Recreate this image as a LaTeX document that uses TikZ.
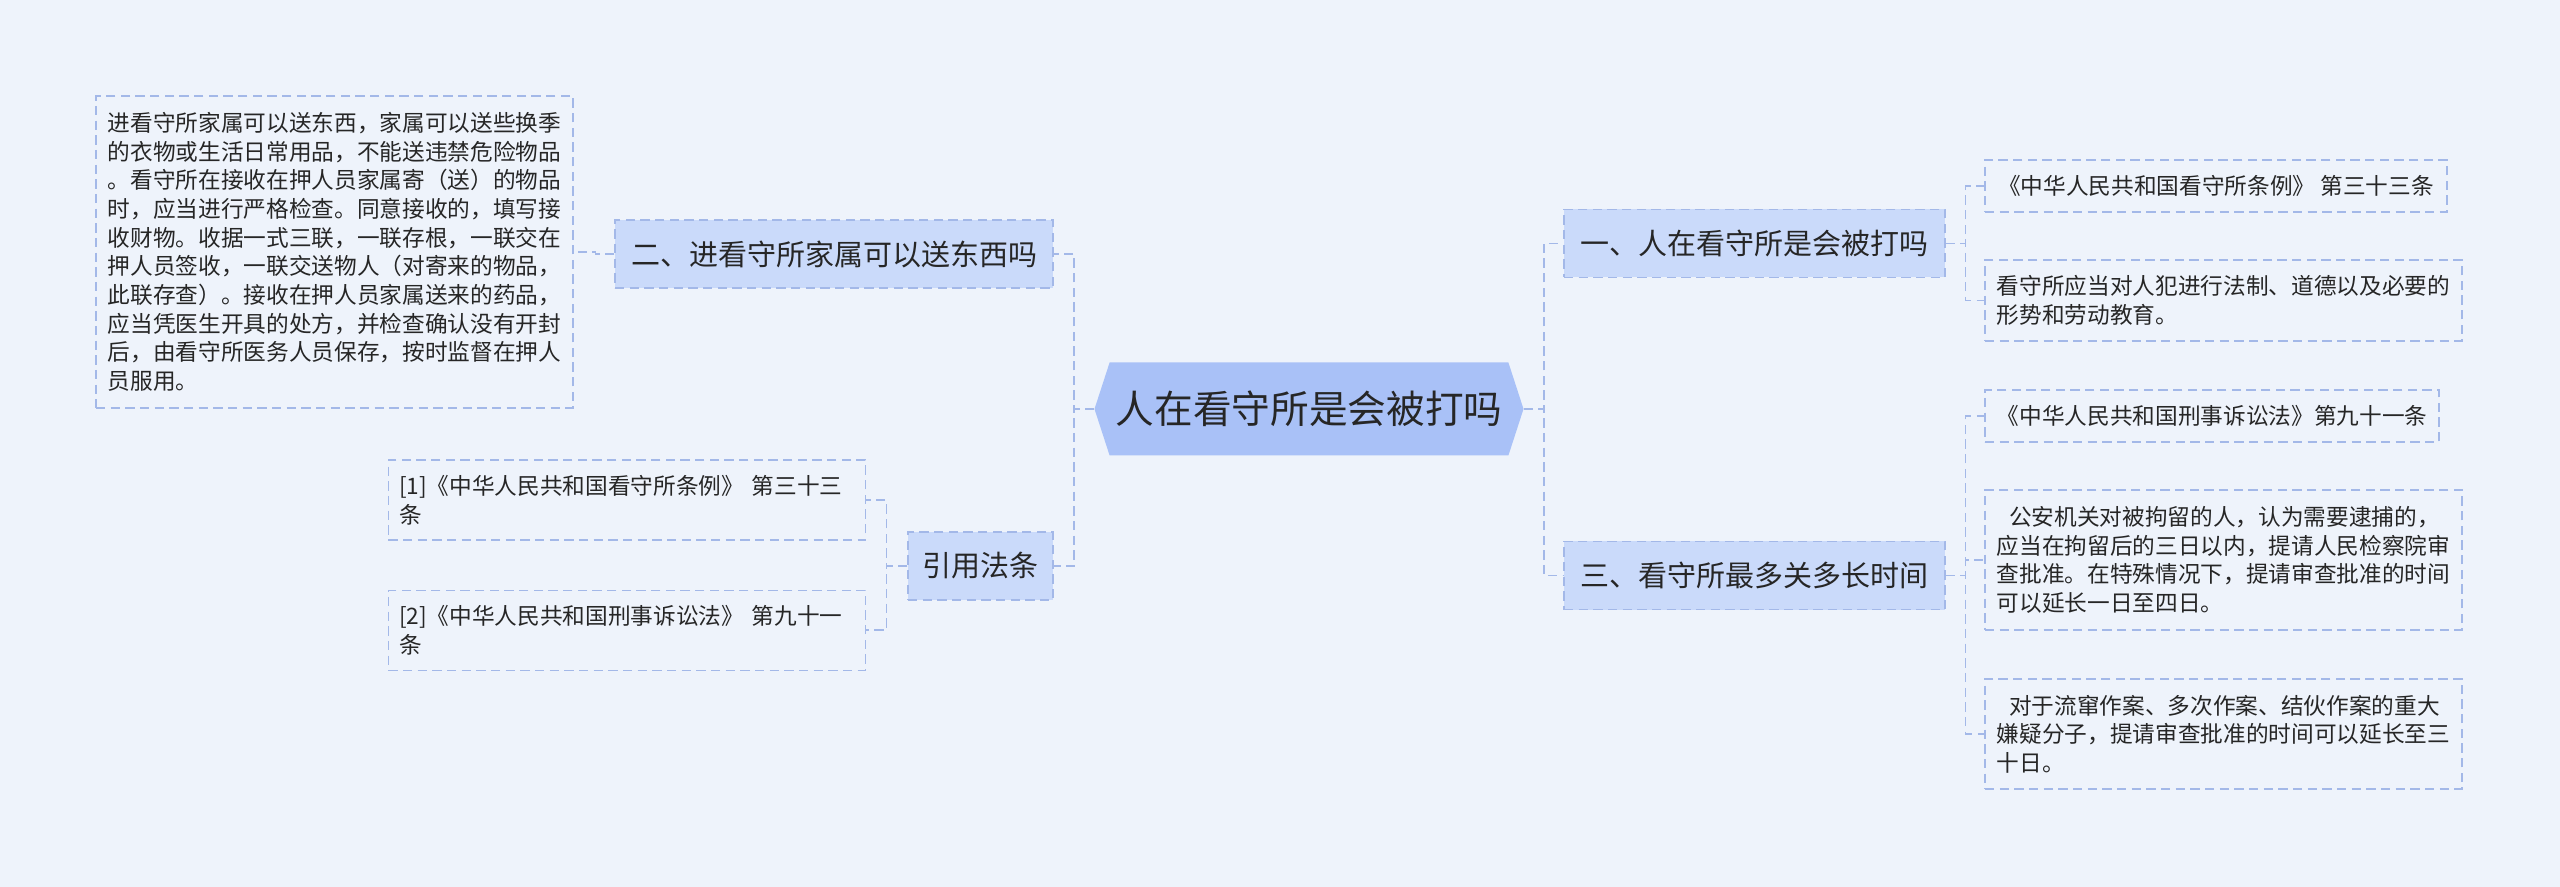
\documentclass[tikz,border=0pt]{standalone}
\usepackage{fontspec}
\setmainfont{Noto Sans CJK SC}
\usetikzlibrary{positioning,shapes.symbols}
\definecolor{bgc}{HTML}{EEF3FB}
\definecolor{hubc}{HTML}{A9C1F7}
\definecolor{branchc}{HTML}{CADAFA}
\definecolor{linec}{HTML}{A3B8E8}
\definecolor{textc}{HTML}{262626}

\begin{document}
\begin{tikzpicture}[
x=0.75pt, y=-0.75pt,
hub/.style={signal, signal to=east and west, signal pointer angle=144, fill=hubc, text=textc, minimum width=321.75pt, minimum height=69.75pt, inner sep=0pt, font=\fontsize{29pt}{34pt}\selectfont},
branch/.style={draw=linec, fill=branchc, dash pattern=on 7pt off 4pt, line width=0.9pt, text=textc, minimum height=51pt, font=\fontsize{21.75pt}{26pt}\selectfont},
leaf/.style={draw=linec, dash pattern=on 7pt off 4pt, line width=0.9pt, text=textc, align=left, inner xsep=8pt, font=\fontsize{17pt}{21.5pt}\selectfont},
link/.style={draw=linec, dash pattern=on 7pt off 4pt, line width=1.3pt}
]
\fill[bgc] (0,0) rectangle (2560,887);
\useasboundingbox (0,0) rectangle (2560,887);

\node[hub] (hub) at (1309,409) {人在看守所是会被打吗};

% left side
\node[branch, minimum width=328.5pt] (b2) at (834,254) {二、进看守所家属可以送东西吗};
\node[branch, minimum width=108.75pt] (cite) at (980.5,566) {引用法条};
\node[leaf, minimum width=357.75pt, minimum height=234pt] (gifts) at (334.5,252) {进看守所家属可以送东西，家属可以送些换季\\的衣物或生活日常用品，不能送违禁危险物品\\。看守所在接收在押人员家属寄（送）的物品\\时，应当进行严格检查。同意接收的，填写接\\收财物。收据一式三联，一联存根，一联交在\\押人员签收，一联交送物人（对寄来的物品，\\此联存查）。接收在押人员家属送来的药品，\\应当凭医生开具的处方，并检查确认没有开封\\后，由看守所医务人员保存，按时监督在押人\\员服用。};
\node[leaf, text width=342pt, minimum height=60pt] (ref1) at (627,500) {[1]《中华人民共和国看守所条例》 第三十三\\条};
\node[leaf, text width=342pt, minimum height=60pt, below=36.75pt of ref1] (ref2) {[2]《中华人民共和国刑事诉讼法》 第九十一\\条};

% right side
\node[branch, minimum width=285.75pt] (b1) at (1754.5,243.5) {一、人在看守所是会被打吗};
\node[branch, minimum width=285.75pt] (b3) at (1754.5,575.5) {三、看守所最多关多长时间};
\node[leaf, minimum width=346.5pt, minimum height=39pt] (rule33) at (2216,186) {《中华人民共和国看守所条例》 第三十三条};
\node[leaf, minimum width=357.75pt, minimum height=60.75pt] (educate) at (2223.5,300.5) {看守所应当对人犯进行法制、道德以及必要的\\形势和劳动教育。};
\node[leaf, minimum width=340.5pt, minimum height=39pt] (law91) at (2212,416) {《中华人民共和国刑事诉讼法》第九十一条};
\node[leaf, minimum width=357.75pt, minimum height=105pt] (arrest) at (2223.5,560) {\hspace{0.55em}公安机关对被拘留的人，认为需要逮捕的，\\应当在拘留后的三日以内，提请人民检察院审\\查批准。在特殊情况下，提请审查批准的时间\\可以延长一日至四日。};
\node[leaf, minimum width=357.75pt, minimum height=82.5pt] (extend) at (2223.5,734) {\hspace{0.55em}对于流窜作案、多次作案、结伙作案的重大\\嫌疑分子，提请审查批准的时间可以延长至三\\十日。};

% connectors
\foreach \kid in {b2,cite}
  \draw[link] (hub.west) -- ++(-20,0) |- (\kid.east);
\foreach \kid in {b1,b3}
  \draw[link] (hub.east) -- ++(20,0) |- (\kid.west);
\draw[link] (b2.west) -- ++(-19,0) |- (gifts.east);
\foreach \kid in {ref1,ref2}
  \draw[link] (cite.west) -- ++(-21,0) |- (\kid.east);
\foreach \kid in {rule33,educate}
  \draw[link] (b1.east) -- ++(20,0) |- (\kid.west);
\foreach \kid in {law91,arrest,extend}
  \draw[link] (b3.east) -- ++(20,0) |- (\kid.west);
\end{tikzpicture}
\end{document}
